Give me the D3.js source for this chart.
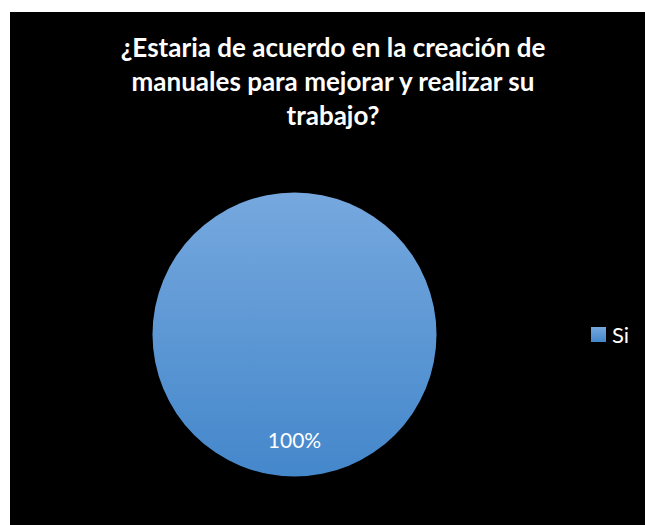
<!DOCTYPE html>
<html>
<head>
<meta charset="utf-8">
<script src="https://cdn.jsdelivr.net/npm/d3@7"></script>
<style>
  html, body { margin: 0; padding: 0; background: #ffffff; }
  svg { display: block; }
</style>
</head>
<body>
<svg id="chart" width="645" height="525"></svg>
<script>
// Survey answers and their counts
const categories = ["Si"];
const values = [100];
const titleLines = [
  "¿Estaria de acuerdo en la creación de",
  "manuales para mejorar y realizar su",
  "trabajo?"
];

const svg = d3.select("#chart");
const W = 645, H = 525;

// Chart area background
svg.append("rect")
  .attr("x", 10).attr("y", 12)
  .attr("width", W - 10).attr("height", H - 12)
  .attr("fill", "#000000");

// Vertical gradient for the slice fill
const defs = svg.append("defs");
const grad = defs.append("linearGradient")
  .attr("id", "sliceFill")
  .attr("x1", 0).attr("y1", 0).attr("x2", 0).attr("y2", 1);
grad.append("stop").attr("offset", "0%").attr("stop-color", "#76a8de");
grad.append("stop").attr("offset", "100%").attr("stop-color", "#4487cb");

// Title
const title = svg.append("text")
  .attr("text-anchor", "middle")
  .attr("fill", "#ffffff")
  .attr("font-family", "Lato, 'Open Sans', sans-serif")
  .attr("font-weight", "bold")
  .attr("font-size", 26);
titleLines.forEach((line, i) => {
  title.append("tspan")
    .attr("x", 333)
    .attr("y", 57 + i * 34)
    .text(line);
});

// Pie
const cx = 294.5, cy = 334.5, r = 142;
const total = d3.sum(values);
const pie = d3.pie().sort(null).value(d => d)(values);
const arc = d3.arc().innerRadius(0).outerRadius(r);

const g = svg.append("g").attr("transform", `translate(${cx},${cy})`);
g.selectAll("path.slice")
  .data(pie)
  .join("path")
  .attr("class", "slice")
  .attr("d", arc)
  .attr("fill", "url(#sliceFill)");

// Percentage labels
g.selectAll("text.pct")
  .data(pie)
  .join("text")
  .attr("class", "pct")
  .attr("x", 0)
  .attr("y", 113)
  .attr("text-anchor", "middle")
  .attr("fill", "#ffffff")
  .attr("font-family", "Lato, 'Open Sans', sans-serif")
  .attr("font-size", 21)
  .text(d => d3.format(".0%")(d.value / total));

// Legend
const legend = svg.append("g").attr("transform", "translate(591,327)");
categories.forEach((c, i) => {
  const row = legend.append("g").attr("transform", `translate(0,${i * 24})`);
  row.append("rect")
    .attr("width", 15).attr("height", 15)
    .attr("fill", "url(#sliceFill)");
  row.append("text")
    .attr("x", 21).attr("y", 16)
    .attr("fill", "#ffffff")
    .attr("font-family", "Lato, 'Open Sans', sans-serif")
    .attr("font-size", 22)
    .text(c);
});
</script>
</body>
</html>
